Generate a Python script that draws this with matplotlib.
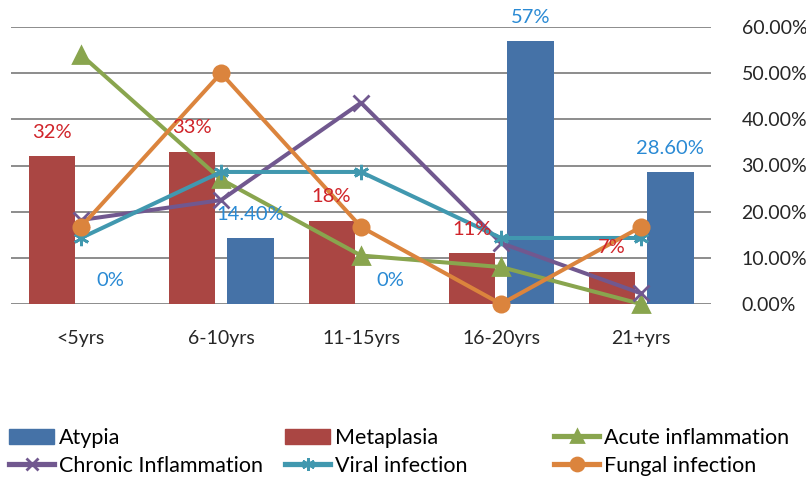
import matplotlib.pyplot as plt
from matplotlib.lines import Line2D
from matplotlib.patches import Patch
import numpy

plt.rcParams['font.family'] = ['Lato', 'DejaVu Sans']

categories = ["<5yrs", "6-10yrs", "11-15yrs", "16-20yrs", "21+yrs"]
atypia = [0, 14.4, 0, 57, 28.6]
metaplasia = [32, 33, 18, 11, 7]
acute = [54, 27, 10.5, 8, 0]
chronic = [18.2, 22.5, 43.6, 13.2, 2.3]
viral = [14.3, 28.6, 28.6, 14.3, 14.3]
fungal = [16.7, 50, 16.7, 0, 16.7]
atypia_labels = ["0%", "14.40%", "0%", "57%", "28.60%"]
metaplasia_labels = ["32%", "33%", "18%", "11%", "7%"]
yticks = [0, 10, 20, 30, 40, 50, 60]

c_atypia = "#4572A7"
c_meta = "#AA4643"
c_acute = "#89A54E"
c_chronic = "#71588F"
c_viral = "#4198AF"
c_fungal = "#DB843D"

fig = plt.figure(figsize=(8.06, 4.79), dpi=100)
ax = fig.add_axes([11 / 806, (479 - 304) / 479, 700 / 806, 277 / 479])

x = numpy.arange(len(categories))
w = 0.33

ax.bar(x - 0.21, metaplasia, w, color=c_meta, zorder=2)
ax.bar(x + 0.21, atypia, w, color=c_atypia, zorder=2)

# data labels sit on top of everything, like in the original chart
for xi, v, lab in zip(x, metaplasia, metaplasia_labels):
    ax.annotate(lab, (xi - 0.21, v), xytext=(0, 24), textcoords="offset pixels",
                ha="center", va="center", color="#D0242A", fontsize=14.5, zorder=6)
for xi, v, lab in zip(x, atypia, atypia_labels):
    ax.annotate(lab, (xi + 0.21, v), xytext=(0, 23), textcoords="offset pixels",
                ha="center", va="center", color="#2A8AD4", fontsize=14.5, zorder=6)

lw = 2.9
line_specs = [
    (acute, c_acute, "^", 11, "Acute inflammation"),
    (chronic, c_chronic, "x", 11, "Chronic Inflammation"),
    (viral, c_viral, (6, 2, 0), 11, "Viral infection"),
    (fungal, c_fungal, "o", 11, "Fungal infection"),
]
handles = {}
for vals, col, mk, ms, name in line_specs:
    ax.plot(x, vals, color=col, lw=lw, marker=mk, markersize=ms,
            markeredgewidth=2, clip_on=False, zorder=4)
    handles[name] = Line2D([], [], color=col, lw=lw * 1.3, marker=mk, markersize=ms * 0.85,
                           markeredgewidth=2)

ax.set_xlim(-0.5, 4.5)
ax.set_ylim(0, 60)
ax.set_yticks(yticks)
ax.set_yticklabels(["%.2f%%" % t for t in yticks])
ax.yaxis.tick_right()
ax.set_xticks(x)
ax.set_xticklabels(categories)
ax.tick_params(axis="y", length=0, pad=22, labelsize=14, labelcolor="#262626")
ax.tick_params(axis="x", length=0, pad=19, labelsize=14, labelcolor="#262626")
ax.grid(axis="y", color="#8C8C8C", lw=1.4, zorder=0)
ax.set_axisbelow(True)
for s in ax.spines.values():
    s.set_visible(False)

handles["Atypia"] = Patch(color=c_atypia)
handles["Metaplasia"] = Patch(color=c_meta)
columns = [("Atypia", "Chronic Inflammation"),
           ("Metaplasia", "Viral infection"),
           ("Acute inflammation", "Fungal infection")]
col_x = [9, 285, 554]
for cx, names in zip(col_x, columns):
    fig.legend([handles[n] for n in names], list(names), loc="upper left",
               bbox_to_anchor=(cx / 806, 1 - 428 / 479), frameon=False,
               fontsize=15.5, handlelength=2.1, handletextpad=0.2,
               labelspacing=0.36, borderpad=0, borderaxespad=0)

fig.savefig("out.png", dpi=100)
